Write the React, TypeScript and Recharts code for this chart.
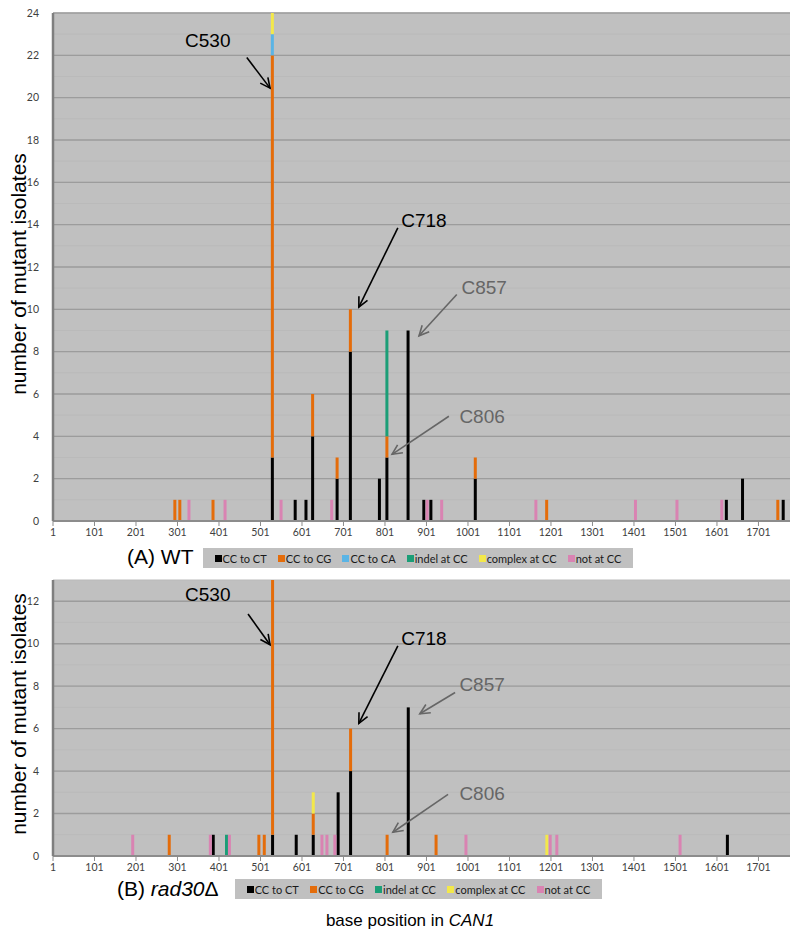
import React from "react";
import { Bar, BarChart, CartesianGrid, ReferenceDot, ReferenceLine, XAxis, YAxis } from "recharts";

// base positions in CAN1 used for x ticks
const X_TICKS = [1, 101, 201, 301, 401, 501, 601, 701, 801, 901, 1001, 1101, 1201, 1301, 1401, 1501, 1601, 1701];
const X_DOMAIN = [1, 1777];

// (A) WT — [position, isolates] per mutation type
const WT_CT = [[530, 3], [585, 1], [611, 1], [627, 4], [686, 2], [718, 8], [788, 2], [806, 3], [857, 9], [895, 1], [912, 1], [1019, 2], [1624, 1], [1663, 2], [1761, 1]];
const WT_CG = [[295, 1], [307, 1], [387, 1], [530, 19], [627, 2], [686, 1], [718, 2], [806, 1], [1019, 1], [1191, 1], [1748, 1]];
const WT_CA = [[530, 1]];
const WT_INDEL = [[806, 5]];
const WT_COMPLEX = [[530, 1]];
const WT_NOT = [[329, 1], [416, 1], [551, 1], [673, 1], [903, 1], [938, 1], [1165, 1], [1405, 1], [1505, 1], [1613, 1]];

// (B) rad30Δ
const RAD_CT = [[387, 1], [530, 1], [587, 1], [628, 1], [688, 3], [718, 4], [857, 7], [1626, 1]];
const RAD_CG = [[281, 1], [497, 1], [510, 1], [530, 12], [628, 1], [718, 2], [806, 1], [924, 1]];
const RAD_INDEL = [[419, 1]];
const RAD_COMPLEX = [[628, 1], [1191, 1]];
const RAD_NOT = [[193, 1], [380, 1], [426, 1], [649, 1], [661, 1], [680, 1], [996, 1], [1199, 1], [1215, 1], [1512, 1]];

const WT_Y_TICKS = [0, 2, 4, 6, 8, 10, 12, 14, 16, 18, 20, 22, 24];
const RAD_Y_TICKS = [0, 2, 4, 6, 8, 10, 12];

const SERIES = {
  ct: { name: "CC to CT", color: "#000000" },
  cg: { name: "CC to CG", color: "#E46C0A" },
  ca: { name: "CC to CA", color: "#5AB4E5" },
  indel: { name: "indel at CC", color: "#1B9E77" },
  complex: { name: "complex at CC", color: "#F3E84A" },
  not: { name: "not at CC", color: "#D983B2" },
};

// annotation: label centre, arrow start, arrow tip (data coordinates)
const WT_NOTES = [
  { label: "C530", color: "#000", at: [374, 22.7], from: [468, 21.9], to: [524, 20.45] },
  { label: "C718", color: "#000", at: [895, 14.2], from: [832, 13.85], to: [738, 10.1] },
  { label: "C857", color: "#666", at: [1040, 11.05], from: [974, 10.7], to: [883, 8.75] },
  { label: "C806", color: "#666", at: [1035, 4.95], from: [955, 4.95], to: [818, 3.15] },
];
const RAD_NOTES = [
  { label: "C530", color: "#000", at: [374, 12.3], from: [471, 11.4], to: [524, 9.95] },
  { label: "C718", color: "#000", at: [895, 10.25], from: [832, 9.9], to: [738, 6.25] },
  { label: "C857", color: "#666", at: [1035, 8.1], from: [970, 7.7], to: [885, 6.7] },
  { label: "C806", color: "#666", at: [1035, 2.95], from: [953, 2.9], to: [820, 1.12] },
];

type Pairs = number[][];

function buildRows(groups: Record<string, Pairs>) {
  const map = new Map<number, Record<string, number>>();
  Object.entries(groups).forEach(([key, pairs]) => {
    pairs.forEach(([pos, n]) => {
      if (!map.has(pos)) map.set(pos, { pos });
      map.get(pos)![key] = n;
    });
  });
  const keys = Object.keys(groups);
  return [...map.values()]
    .sort((a, b) => a.pos - b.pos)
    .map((r) => {
      keys.forEach((k) => (r[k] = r[k] ?? 0));
      return r;
    });
}

const WT_ROWS = buildRows({ ct: WT_CT, cg: WT_CG, ca: WT_CA, indel: WT_INDEL, complex: WT_COMPLEX, not: WT_NOT });
const RAD_ROWS = buildRows({ ct: RAD_CT, cg: RAD_CG, indel: RAD_INDEL, complex: RAD_COMPLEX, not: RAD_NOT });

const TICK_FONT = "Lato, 'Open Sans', sans-serif";
const ARIAL = "'Liberation Sans', Arial, sans-serif";

const Stick = (props: any) => {
  const { x, y, width, height, fill } = props;
  if (!height || height <= 0) return <g />;
  const cx = x + width / 2;
  return <rect x={cx - 1.5} y={y} width={3} height={height} fill={fill} />;
};

const arrowShape = (color: string) => (p: any) => {
  const { x1, y1, x2, y2 } = p;
  const a = Math.atan2(y2 - y1, x2 - x1);
  const L = 11;
  const s = 0.45;
  const pts = `${x2 - L * Math.cos(a - s)},${y2 - L * Math.sin(a - s)} ${x2},${y2} ${x2 - L * Math.cos(a + s)},${y2 - L * Math.sin(a + s)}`;
  return (
    <g stroke={color} strokeWidth={1.6} fill="none">
      <line x1={x1} y1={y1} x2={x2} y2={y2} />
      <polyline points={pts} />
    </g>
  );
};

type Note = (typeof WT_NOTES)[number];

function MutationChart({
  rows,
  keys,
  yMax,
  yTicks,
  notes,
  height,
  top,
}: {
  rows: Record<string, number>[];
  keys: (keyof typeof SERIES)[];
  yMax: number;
  yTicks: number[];
  notes: Note[];
  height: number;
  top: number;
}) {
  const all = Array.from({ length: yMax + 1 }, (_, i) => i);
  return (
    <BarChart
      width={800}
      height={height}
      data={rows}
      margin={{ top, right: 10, left: 13, bottom: 0 }}
      barCategoryGap={0}
    >
      <CartesianGrid vertical={false} fill="#C0C0C0" stroke="#BABABA" horizontalValues={all} />
      <CartesianGrid vertical={false} stroke="#9C9C9C" strokeWidth={1.4} horizontalValues={yTicks} />
      <XAxis
        type="number"
        dataKey="pos"
        domain={X_DOMAIN}
        allowDataOverflow
        ticks={X_TICKS}
        interval={0}
        height={24}
        tickSize={5}
        tickMargin={3}
        axisLine={{ stroke: "#8C8C8C", strokeWidth: 2 }}
        tickLine={{ stroke: "#8C8C8C" }}
        tick={{ fill: "#404040", fontSize: 10.5, fontFamily: TICK_FONT }}
      />
      <YAxis
        type="number"
        domain={[0, yMax]}
        allowDataOverflow
        ticks={yTicks}
        interval={0}
        width={40}
        tickSize={0}
        tickMargin={14}
        axisLine={{ stroke: "#7F7F7F", strokeWidth: 2.5 }}
        tickLine={false}
        tick={{ fill: "#404040", fontSize: 10.5, fontFamily: TICK_FONT }}
      />
      {keys.map((k) => (
        <Bar
          key={k}
          dataKey={k}
          name={SERIES[k].name}
          stackId="a"
          fill={SERIES[k].color}
          shape={Stick}
          isAnimationActive={false}
        />
      ))}
      {notes.map((n) => (
        <ReferenceLine
          key={n.label + "-arrow"}
          segment={[
            { x: n.from[0], y: n.from[1] },
            { x: n.to[0], y: n.to[1] },
          ]}
          ifOverflow="visible"
          shape={arrowShape(n.color)}
        />
      ))}
      {notes.map((n) => (
        <ReferenceDot
          key={n.label}
          x={n.at[0]}
          y={n.at[1]}
          r={0}
          ifOverflow="visible"
          shape={(p: any) => (
            <text
              x={p.cx}
              y={p.cy}
              textAnchor="middle"
              dominantBaseline="central"
              fill={n.color}
              fontSize={19}
              fontFamily={ARIAL}
            >
              {n.label}
            </text>
          )}
        />
      ))}
    </BarChart>
  );
}

function LegendBox({ keys, left, top, width }: { keys: (keyof typeof SERIES)[]; left: number; top: number; width: number }) {
  return (
    <div
      style={{
        position: "absolute",
        left,
        top,
        width,
        height: 20,
        background: "#C0C0C0",
        display: "flex",
        alignItems: "center",
        justifyContent: "space-around",
        padding: "0 6px",
        boxSizing: "border-box",
        fontFamily: TICK_FONT,
        fontSize: 11,
        color: "#1a1a1a",
      }}
    >
      {keys.map((k) => (
        <span key={k} style={{ display: "flex", alignItems: "center", whiteSpace: "nowrap" }}>
          <span style={{ width: 7, height: 7, background: SERIES[k].color, marginRight: 1 }} />
          {SERIES[k].name}
        </span>
      ))}
    </div>
  );
}

function YTitle({ cy }: { cy: number }) {
  return (
    <div
      style={{
        position: "absolute",
        left: 19,
        top: cy,
        transform: "translate(-50%, -50%) rotate(-90deg)",
        whiteSpace: "nowrap",
        fontFamily: ARIAL,
        fontSize: 21,
        color: "#000",
      }}
    >
      number of mutant isolates
    </div>
  );
}

export default function App() {
  return (
    <div style={{ position: "absolute", left: 0, top: 0, width: 800, height: 943, background: "#fff" }}>
      <div style={{ position: "absolute", left: 0, top: 0 }}>
        <MutationChart
          rows={WT_ROWS}
          keys={["ct", "cg", "ca", "indel", "complex", "not"]}
          yMax={24}
          yTicks={WT_Y_TICKS}
          notes={WT_NOTES}
          height={545}
          top={13}
        />
      </div>
      <div style={{ position: "absolute", left: 0, top: 570 }}>
        <MutationChart
          rows={RAD_ROWS}
          keys={["ct", "cg", "indel", "complex", "not"]}
          yMax={13}
          yTicks={RAD_Y_TICKS}
          notes={RAD_NOTES}
          height={310}
          top={10}
        />
      </div>
      <YTitle cy={274} />
      <YTitle cy={714} />
      <div style={{ position: "absolute", left: 127, top: 545, fontFamily: ARIAL, fontSize: 21, lineHeight: "24px" }}>(A) WT</div>
      <LegendBox keys={["ct", "cg", "ca", "indel", "complex", "not"]} left={203} top={548} width={430} />
      <div style={{ position: "absolute", left: 117, top: 877, fontFamily: ARIAL, fontSize: 21, lineHeight: "24px" }}>
        (B) <i>rad30</i>Δ
      </div>
      <LegendBox keys={["ct", "cg", "indel", "complex", "not"]} left={235} top={879} width={367} />
      <div
        style={{
          position: "absolute",
          left: 410,
          top: 921,
          transform: "translate(-50%, -50%)",
          whiteSpace: "nowrap",
          fontFamily: ARIAL,
          fontSize: 17,
        }}
      >
        base position in <i>CAN1</i>
      </div>
    </div>
  );
}
